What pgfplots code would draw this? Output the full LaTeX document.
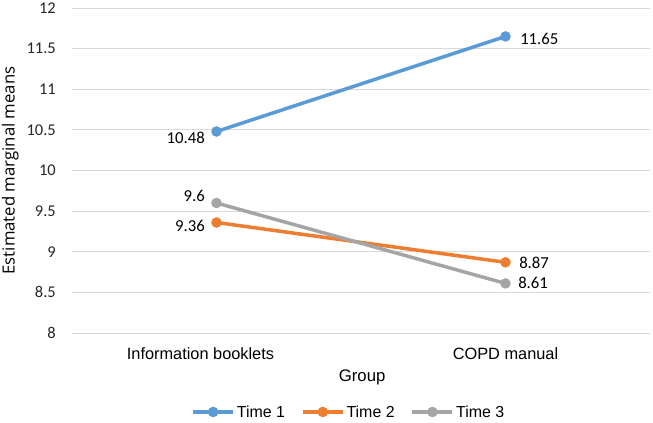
\documentclass[border=0pt]{standalone}
\usepackage{pgfplots}
\pgfplotsset{compat=1.18}
\usepackage{fontspec}
\setmainfont{Carlito}
\newfontfamily\arialf{Liberation Sans}
\newfontfamily\osans{Open Sans}
\definecolor{c1}{HTML}{5B9BD5}
\definecolor{c2}{HTML}{ED7D31}
\definecolor{c3}{HTML}{A5A5A5}
\definecolor{gridc}{HTML}{D9D9D9}
\pgfplotstableread{
x t1 t2 t3
0 10.48 9.36 9.6
1 11.65 8.87 8.61
}\datatable
\begin{document}
\begin{tikzpicture}
\begin{axis}[
  scale only axis, width=578bp, height=325bp,
  xmin=-0.5, xmax=1.5, ymin=8, ymax=12,
  xtick={0,1}, xticklabels={{\hspace*{-32bp}Information booklets}, COPD manual},
  ytick={8,8.5,...,12},
  axis line style={draw=none},
  major tick length=0pt,
  ymajorgrids, grid style={gridc, line width=1bp},
  /pgf/number format/assume math mode=true,
  yticklabel style={font=\fontsize{16.5}{18}\selectfont, text=black!85, inner sep=0pt, anchor=east, xshift=-16bp},
  xticklabel style={font=\arialf\fontsize{16.4}{18}\selectfont, text=black, inner sep=0pt, anchor=base, yshift=-26bp},
  xlabel={Group},
  xlabel style={font=\arialf\fontsize{16.8}{18}\selectfont, at={(axis description cs:0.502,-0.138)}, anchor=center},
  ylabel={Estimated marginal means},
  ylabel style={font=\osans\fontsize{16.8}{18}\selectfont, at={(axis description cs:-0.107,0.5)}, anchor=center},
  legend style={at={(axis description cs:0.479,-0.243)}, anchor=center, legend columns=-1, draw=none, fill=none,
    font=\arialf\fontsize{16}{18}\selectfont,
    /tikz/every even column/.append style={column sep=14bp}},
  legend image code/.code={\draw[mark repeat=2,mark phase=2,#1] plot coordinates {(0bp,0bp) (20bp,0bp) (40bp,0bp)};},
  every axis plot/.append style={line width=3.5bp, mark=*, mark size=3.4bp},
  clip=false,
]
\addplot[c1, mark options={fill=c1}] table[x=x,y=t1] {\datatable};
\addlegendentry{Time 1}
\addplot[c2, mark options={fill=c2}] table[x=x,y=t2] {\datatable};
\addlegendentry{Time 2}
\addplot[c3, mark options={fill=c3}] table[x=x,y=t3] {\datatable};
\addlegendentry{Time 3}
% data labels
\pgfplotsset{lbl/.style={forget plot, draw=none, mark=none, nodes near coords, point meta=explicit symbolic,
   every node near coord/.append style={font=\fontsize{16.8}{18}\selectfont, text=black, inner sep=0pt}}}
\addplot[lbl, every node near coord/.append style={anchor=east, xshift=-10bp, yshift=-6bp}] coordinates {(0,10.48) [10.48]};
\addplot[lbl, every node near coord/.append style={anchor=west, xshift=13bp, yshift=-2bp}] coordinates {(1,11.65) [11.65]};
\addplot[lbl, every node near coord/.append style={anchor=east, xshift=-10bp, yshift=-3bp}] coordinates {(0,9.36) [9.36]};
\addplot[lbl, every node near coord/.append style={anchor=west, xshift=12bp, yshift=-1bp}] coordinates {(1,8.87) [8.87]};
\addplot[lbl, every node near coord/.append style={anchor=east, xshift=-10bp, yshift=7bp}] coordinates {(0,9.6) [9.6]};
\addplot[lbl, every node near coord/.append style={anchor=west, xshift=11bp, yshift=1bp}] coordinates {(1,8.61) [8.61]};
\coordinate (sw) at (rel axis cs:0,0);
\end{axis}
\pgfresetboundingbox
\path (sw) ++(-72bp,-90bp) rectangle ++(653bp,423bp);
\end{tikzpicture}
\end{document}
